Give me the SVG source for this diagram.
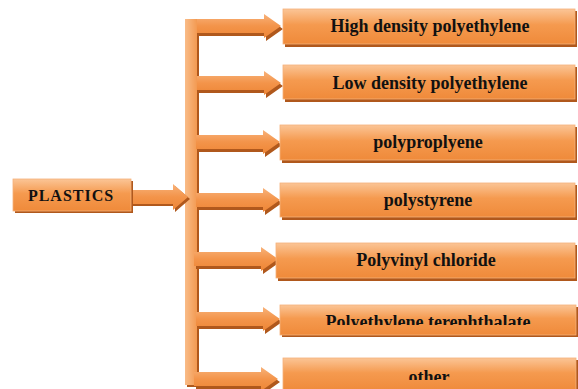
<svg xmlns="http://www.w3.org/2000/svg" width="578" height="389" viewBox="0 0 578 389">
<style>
.box{fill:url(#gBox);stroke:#F5B17A;stroke-width:0.8}
.sh{fill:#B0581C}
.arr{fill:url(#gArr)}
.lbl{font-family:"Liberation Serif","Times New Roman",serif;font-weight:bold;font-size:18px;fill:#111;text-anchor:middle}
</style>
<defs>
<linearGradient id="gBox" x1="0" y1="0" x2="0" y2="1">
<stop offset="0" stop-color="#FBC596"/>
<stop offset="0.45" stop-color="#F59A4F"/>
<stop offset="1" stop-color="#EF8A3A"/>
</linearGradient>
<linearGradient id="gArr" x1="0" y1="0" x2="0" y2="1">
<stop offset="0" stop-color="#F8B27A"/>
<stop offset="0.5" stop-color="#F3944A"/>
<stop offset="1" stop-color="#EE8636"/>
</linearGradient>
<linearGradient id="gBar" x1="0" y1="0" x2="1" y2="0">
<stop offset="0" stop-color="#F9BC88"/>
<stop offset="1" stop-color="#F39A52"/>
</linearGradient>
<clipPath id="clipPet"><rect x="0" y="0" width="578" height="325"/></clipPath>
<clipPath id="clipOther"><rect x="0" y="0" width="578" height="380"/></clipPath>
<polygon id="br" points="0,-7 67,-7 67,-12 84,0 67,12 67,7 0,7"/>
</defs>

<g id="connectors">
<rect x="187" y="21" width="12" height="366" class="sh"/>
<rect x="185" y="19" width="12" height="366" fill="url(#gBar)"/>
<g id="c-plastics">
<polygon points="133,192 175,192 175,186 190,199 175,212 175,206 133,206" class="sh"/>
<polygon points="131,190 173,190 173,184 188,197 173,210 173,204 131,204" class="arr"/>
</g>
<g transform="translate(197,26)"><use href="#br" transform="translate(2,3)" class="sh"/><use href="#br" class="arr"/></g>
<g transform="translate(197,83)"><use href="#br" transform="translate(2,3)" class="sh"/><use href="#br" class="arr"/></g>
<g transform="translate(196,142)"><use href="#br" transform="translate(2,3)" class="sh"/><use href="#br" class="arr"/></g>
<g transform="translate(196,200)"><use href="#br" transform="translate(2,3)" class="sh"/><use href="#br" class="arr"/></g>
<g transform="translate(194,259)"><use href="#br" transform="translate(2,3)" class="sh"/><use href="#br" class="arr"/></g>
<g transform="translate(196,319)"><use href="#br" transform="translate(2,3)" class="sh"/><use href="#br" class="arr"/></g>
<g transform="translate(194,379)"><use href="#br" transform="translate(2,3)" class="sh"/><use href="#br" class="arr"/></g>
</g>

<g id="plastics">
<rect x="15" y="181" width="118" height="32" class="sh"/>
<rect x="13" y="179" width="118" height="32" class="box"/>
<text x="71" y="201" class="lbl" style="font-size:16px;letter-spacing:1px">PLASTICS</text>
</g>

<g id="hdpe">
<rect x="285" y="11" width="292" height="36" class="sh"/>
<rect x="283" y="9" width="292" height="35" class="box"/>
<text x="430" y="32" class="lbl">High density polyethylene</text>
</g>

<g id="ldpe">
<rect x="285" y="67" width="292" height="35" class="sh"/>
<rect x="283" y="65" width="292" height="34" class="box"/>
<text x="430" y="89" class="lbl">Low density polyethylene</text>
</g>

<g id="pp">
<rect x="282" y="127" width="295" height="36" class="sh"/>
<rect x="280" y="125" width="295" height="35" class="box"/>
<text x="428" y="148" class="lbl">polyproplyene</text>
</g>

<g id="ps">
<rect x="282" y="185" width="295" height="35" class="sh"/>
<rect x="280" y="183" width="295" height="34" class="box"/>
<text x="428" y="206" class="lbl">polystyrene</text>
</g>

<g id="pvc">
<rect x="278" y="245" width="299" height="36" class="sh"/>
<rect x="276" y="243" width="299" height="35" class="box"/>
<text x="426" y="266" class="lbl">Polyvinyl chloride</text>
</g>

<g id="pet">
<rect x="282" y="307" width="296" height="30" class="sh"/>
<rect x="280" y="305" width="296" height="30" class="box"/>
<text x="428" y="328" class="lbl" clip-path="url(#clipPet)">Polyethylene terephthalate</text>
</g>

<g id="other">
<rect x="285" y="360" width="293" height="32" class="sh"/>
<rect x="283" y="358" width="293" height="33" class="box"/>
<text x="429" y="383" class="lbl" clip-path="url(#clipOther)">other</text>
</g>
</svg>
